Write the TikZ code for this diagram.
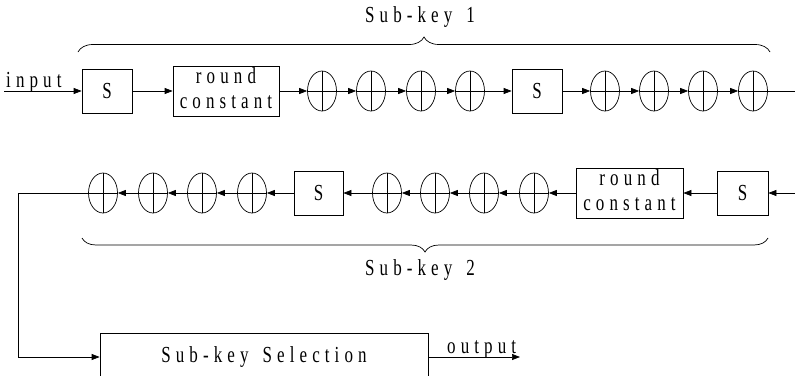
\documentclass[tikz,border=0pt]{standalone}
\usepackage{fontspec}
\setmainfont{Liberation Serif}
\newfontfamily\spaced[LetterSpace=30]{Liberation Serif}
\usetikzlibrary{arrows.meta,shapes.geometric,decorations.pathreplacing}
% tall, letter-spaced lettering
\newcommand{\lbl}[1]{\scalebox{1}[1.35]{\spaced #1}}
\newcommand{\wsp}{\kern14pt\relax}

\tikzset{
  every node/.style={font=\fontsize{17}{18.5}\selectfont, inner sep=0pt},
  wire/.style={line width=0.7pt},
  flow/.style={wire, -{Triangle[length=8pt,width=6pt]}},
  blockbox/.style={draw, line width=0.7pt, rectangle, minimum height=44pt},
  xorop/.style={draw, line width=0.7pt, ellipse, minimum width=29pt, minimum height=40pt,
    path picture={
      \draw[line width=0.7pt] (path picture bounding box.north) -- (path picture bounding box.south);
      \draw[line width=0.7pt] (path picture bounding box.west) -- (path picture bounding box.east);
    }},
  keybrace/.style={wire, decorate, decoration={brace, amplitude=15pt}},
}

\begin{document}
\begin{tikzpicture}[x=1pt, y=-1pt]
\useasboundingbox (0,0) rectangle (795,375);

% ---- first round: input to Sub-key 1 ----
\coordinate (in) at (4,91);
\node[blockbox, minimum width=50pt] (s1) at (107,91) {\scalebox{1}[1.35]{S}};
\node[blockbox, minimum width=106pt] (rc1) at (226,91)
  {\lbl{\begin{tabular}{@{}c@{}}round\\constant\end{tabular}}};
\node[xorop] (x1) at (322,91) {};
\node[xorop] (x2) at (371,91) {};
\node[xorop] (x3) at (421,91) {};
\node[xorop] (x4) at (470,91) {};
\node[blockbox, minimum width=50pt] (s2) at (537,91) {\scalebox{1}[1.35]{S}};
\node[xorop] (x5) at (605,91) {};
\node[xorop] (x6) at (654,91) {};
\node[xorop] (x7) at (703,91) {};
\node[xorop] (x8) at (753,91) {};
\coordinate (out1) at (795,91);

\node[anchor=base west] (inlbl) at (6,87) {\lbl{input}};

\draw[flow] (in) -- (s1);
\draw[flow] (s1) -- (rc1);
\draw[flow] (rc1) -- (x1);
\draw[flow] (x1) -- (x2);
\draw[flow] (x2) -- (x3);
\draw[flow] (x3) -- (x4);
\draw[flow] (x4) -- (s2);
\draw[flow] (s2) -- (x5);
\draw[flow] (x5) -- (x6);
\draw[flow] (x6) -- (x7);
\draw[flow] (x7) -- (x8);
\draw[wire] (x8) -- (out1);

\coordinate (b1l) at (78,52);
\coordinate (b1r) at (770,52);
\draw[keybrace] (b1l) -- (b1r);
\node (k1) at (420,17) {\lbl{Sub-key\wsp1}};

% ---- second round: Sub-key 2 ----
\coordinate (in2) at (795,193);
\node[blockbox, minimum width=51pt] (s3) at (742.5,193) {\scalebox{1}[1.35]{S}};
\node[blockbox, minimum width=107pt] (rc2) at (629.5,193)
  {\lbl{\begin{tabular}{@{}c@{}}round\\constant\end{tabular}}};
\node[xorop] (x9) at (534,193) {};
\node[xorop] (x10) at (484,193) {};
\node[xorop] (x11) at (435,193) {};
\node[xorop] (x12) at (387,193) {};
\node[blockbox, minimum width=49pt] (s4) at (318.5,193) {\scalebox{1}[1.35]{S}};
\node[xorop] (x13) at (252,193) {};
\node[xorop] (x14) at (202,193) {};
\node[xorop] (x15) at (153,193) {};
\node[xorop] (x16) at (103,193) {};

\draw[flow] (in2) -- (s3);
\draw[flow] (s3) -- (rc2);
\draw[flow] (rc2) -- (x9);
\draw[flow] (x9) -- (x10);
\draw[flow] (x10) -- (x11);
\draw[flow] (x11) -- (x12);
\draw[flow] (x12) -- (s4);
\draw[flow] (s4) -- (x13);
\draw[flow] (x13) -- (x14);
\draw[flow] (x14) -- (x15);
\draw[flow] (x15) -- (x16);

\coordinate (b2r) at (768,238);
\coordinate (b2l) at (82,238);
\draw[keybrace, decoration={amplitude=14pt}] (b2r) -- (b2l);
\node (k2) at (420,270) {\lbl{Sub-key\wsp2}};

% ---- sub-key selection ----
\node[draw, line width=0.7pt, minimum width=328pt, minimum height=48pt] (sel) at (264,357)
  {\lbl{Sub-key\wsp Selection}};
\coordinate (outend) at (520,357);
\draw[flow] (x16.west) -- (18,193) |- (sel.west);
\draw[flow] (sel.east) -- (outend);
\node[anchor=base west] (outlbl) at (447,353) {\lbl{output}};
\end{tikzpicture}
\end{document}
